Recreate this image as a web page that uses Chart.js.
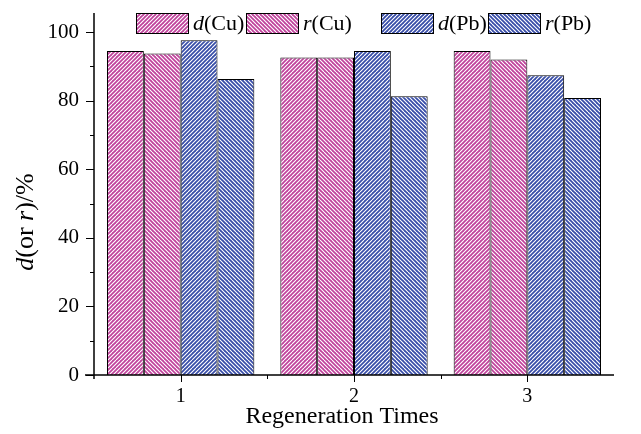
<!DOCTYPE html>
<html>
<head>
<meta charset="utf-8">
<script src="https://cdn.jsdelivr.net/npm/chart.js@4"></script>
<style>
  body { margin: 0; background: #fff; }
</style>
</head>
<body>
<canvas id="regenChart" width="641" height="434"></canvas>
<script>
const times = ["1", "2", "3"];
const dCu = [94.5, 92.6, 94.5];
const rCu = [93.8, 92.6, 92.0];
const dPb = [97.6, 94.5, 87.4];
const rPb = [86.3, 81.3, 80.8];
const yTicks = [0, 20, 40, 60, 80, 100];
const yMinorTicks = [10, 30, 50, 70, 90];

const serif = "'Liberation Serif', 'Times New Roman', serif";
const pink = "#c0439c";
const blue = "#384da8";

// 8px tile with white diagonals every 4px
function hatch(base, dir) {
  const c = document.createElement("canvas");
  c.width = c.height = 8;
  const g = c.getContext("2d");
  g.fillStyle = base;
  g.fillRect(0, 0, 8, 8);
  g.strokeStyle = "#ffffff";
  g.lineWidth = 1.1;
  g.beginPath();
  for (let x0 = -8; x0 <= 8; x0 += 4) {
    if (dir === "/") {
      g.moveTo(x0, 8);
      g.lineTo(x0 + 8, 0);
    } else {
      g.moveTo(x0, 0);
      g.lineTo(x0 + 8, 8);
    }
  }
  g.stroke();
  return g.createPattern(c, "repeat");
}

const legendItems = [
  { it: "d", rest: "(Cu)", x: 136 },
  { it: "r", rest: "(Cu)", x: 246 },
  { it: "d", rest: "(Pb)", x: 381 },
  { it: "r", rest: "(Pb)", x: 488 },
];

const framePlugin = {
  id: "frame",
  afterDraw(chart) {
    const ctx = chart.ctx;
    const area = chart.chartArea;
    const xs = chart.scales.x;
    const ys = chart.scales.y;
    ctx.save();
    ctx.strokeStyle = "#000";
    ctx.lineWidth = 1.5;

    // axes
    ctx.beginPath();
    ctx.moveTo(area.left, area.top - 2);
    ctx.lineTo(area.left, area.bottom + 4);
    ctx.moveTo(area.left - 9, area.bottom);
    ctx.lineTo(area.right, area.bottom);
    ctx.stroke();

    ctx.lineWidth = 1;
    ctx.beginPath();
    yTicks.forEach((v) => {
      const y = Math.round(ys.getPixelForValue(v)) + 0.5;
      ctx.moveTo(area.left - 8, y);
      ctx.lineTo(area.left, y);
    });
    yMinorTicks.forEach((v) => {
      const y = Math.round(ys.getPixelForValue(v)) + 0.5;
      ctx.moveTo(area.left - 4, y);
      ctx.lineTo(area.left, y);
    });
    times.forEach((t, i) => {
      const x = Math.round(xs.getPixelForValue(i)) + 0.5;
      ctx.moveTo(x, area.bottom);
      ctx.lineTo(x, area.bottom + 7);
      if (i < times.length - 1) {
        const m = Math.round((xs.getPixelForValue(i) + xs.getPixelForValue(i + 1)) / 2) + 0.5;
        ctx.moveTo(m, area.bottom);
        ctx.lineTo(m, area.bottom + 4);
      }
    });
    ctx.stroke();

    // x title
    ctx.fillStyle = "#000";
    ctx.font = "24px " + serif;
    ctx.textAlign = "center";
    ctx.textBaseline = "alphabetic";
    ctx.fillText("Regeneration Times", 342, 423);

    // y title, rotated
    ctx.save();
    ctx.translate(33, 222);
    ctx.rotate(-Math.PI / 2);
    const parts = [
      ["italic ", "d"], ["", "(or "], ["italic ", "r"], ["", ")/%"],
    ];
    ctx.textAlign = "left";
    let total = 0;
    parts.forEach((p) => { ctx.font = p[0] + "26px " + serif; total += ctx.measureText(p[1]).width; });
    let px = -total / 2;
    parts.forEach((p) => {
      ctx.font = p[0] + "26px " + serif;
      ctx.fillText(p[1], px, 0);
      px += ctx.measureText(p[1]).width;
    });
    ctx.restore();

    // legend
    ctx.textBaseline = "middle";
    ctx.textAlign = "left";
    legendItems.forEach((item, i) => {
      const ds = chart.data.datasets[i];
      ctx.fillStyle = ds.backgroundColor;
      ctx.fillRect(item.x, 13, 52, 20);
      ctx.strokeStyle = "#000";
      ctx.lineWidth = 1;
      ctx.strokeRect(item.x + 0.5, 13.5, 52, 20);
      ctx.fillStyle = "#000";
      let tx = item.x + 57;
      ctx.font = "italic 22px " + serif;
      ctx.fillText(item.it, tx, 24);
      tx += ctx.measureText(item.it).width;
      ctx.font = "22px " + serif;
      ctx.fillText(item.rest, tx, 24);
    });
    ctx.restore();
  },
};

const ctx = document.getElementById("regenChart").getContext("2d");

new Chart(ctx, {
  type: "bar",
  data: {
    labels: times,
    datasets: [
      { label: "d(Cu)", data: dCu, backgroundColor: hatch(pink, "/") },
      { label: "r(Cu)", data: rCu, backgroundColor: hatch(pink, "\\") },
      { label: "d(Pb)", data: dPb, backgroundColor: hatch(blue, "/") },
      { label: "r(Pb)", data: rPb, backgroundColor: hatch(blue, "\\") },
    ].map((d) => ({
      ...d,
      borderColor: "#000",
      borderWidth: 1,
      borderSkipped: "start",
      categoryPercentage: 0.85,
      barPercentage: 1,
    })),
  },
  options: {
    responsive: false,
    animation: false,
    devicePixelRatio: 1,
    layout: { padding: { left: 0, right: 27, top: 15, bottom: 0 } },
    plugins: {
      legend: { display: false },
      tooltip: { enabled: false },
    },
    scales: {
      x: {
        grid: { display: false, drawTicks: false },
        border: { display: false },
        ticks: { color: "#000", font: { family: serif, size: 20 }, padding: 10 },
        afterFit: (scale) => {
          scale.height = 59;
          scale.paddingLeft = 0;
          scale.paddingRight = 0;
        },
      },
      y: {
        min: 0,
        max: 105,
        grid: { display: false, drawTicks: false },
        border: { display: false },
        afterBuildTicks: (scale) => { scale.ticks = yTicks.map((v) => ({ value: v })); },
        ticks: { color: "#000", font: { family: serif, size: 21 }, padding: 15 },
        afterFit: (scale) => {
          scale.width = 94;
          scale.paddingTop = 0;
          scale.paddingBottom = 0;
        },
      },
    },
  },
  plugins: [framePlugin],
});
</script>
</body>
</html>
